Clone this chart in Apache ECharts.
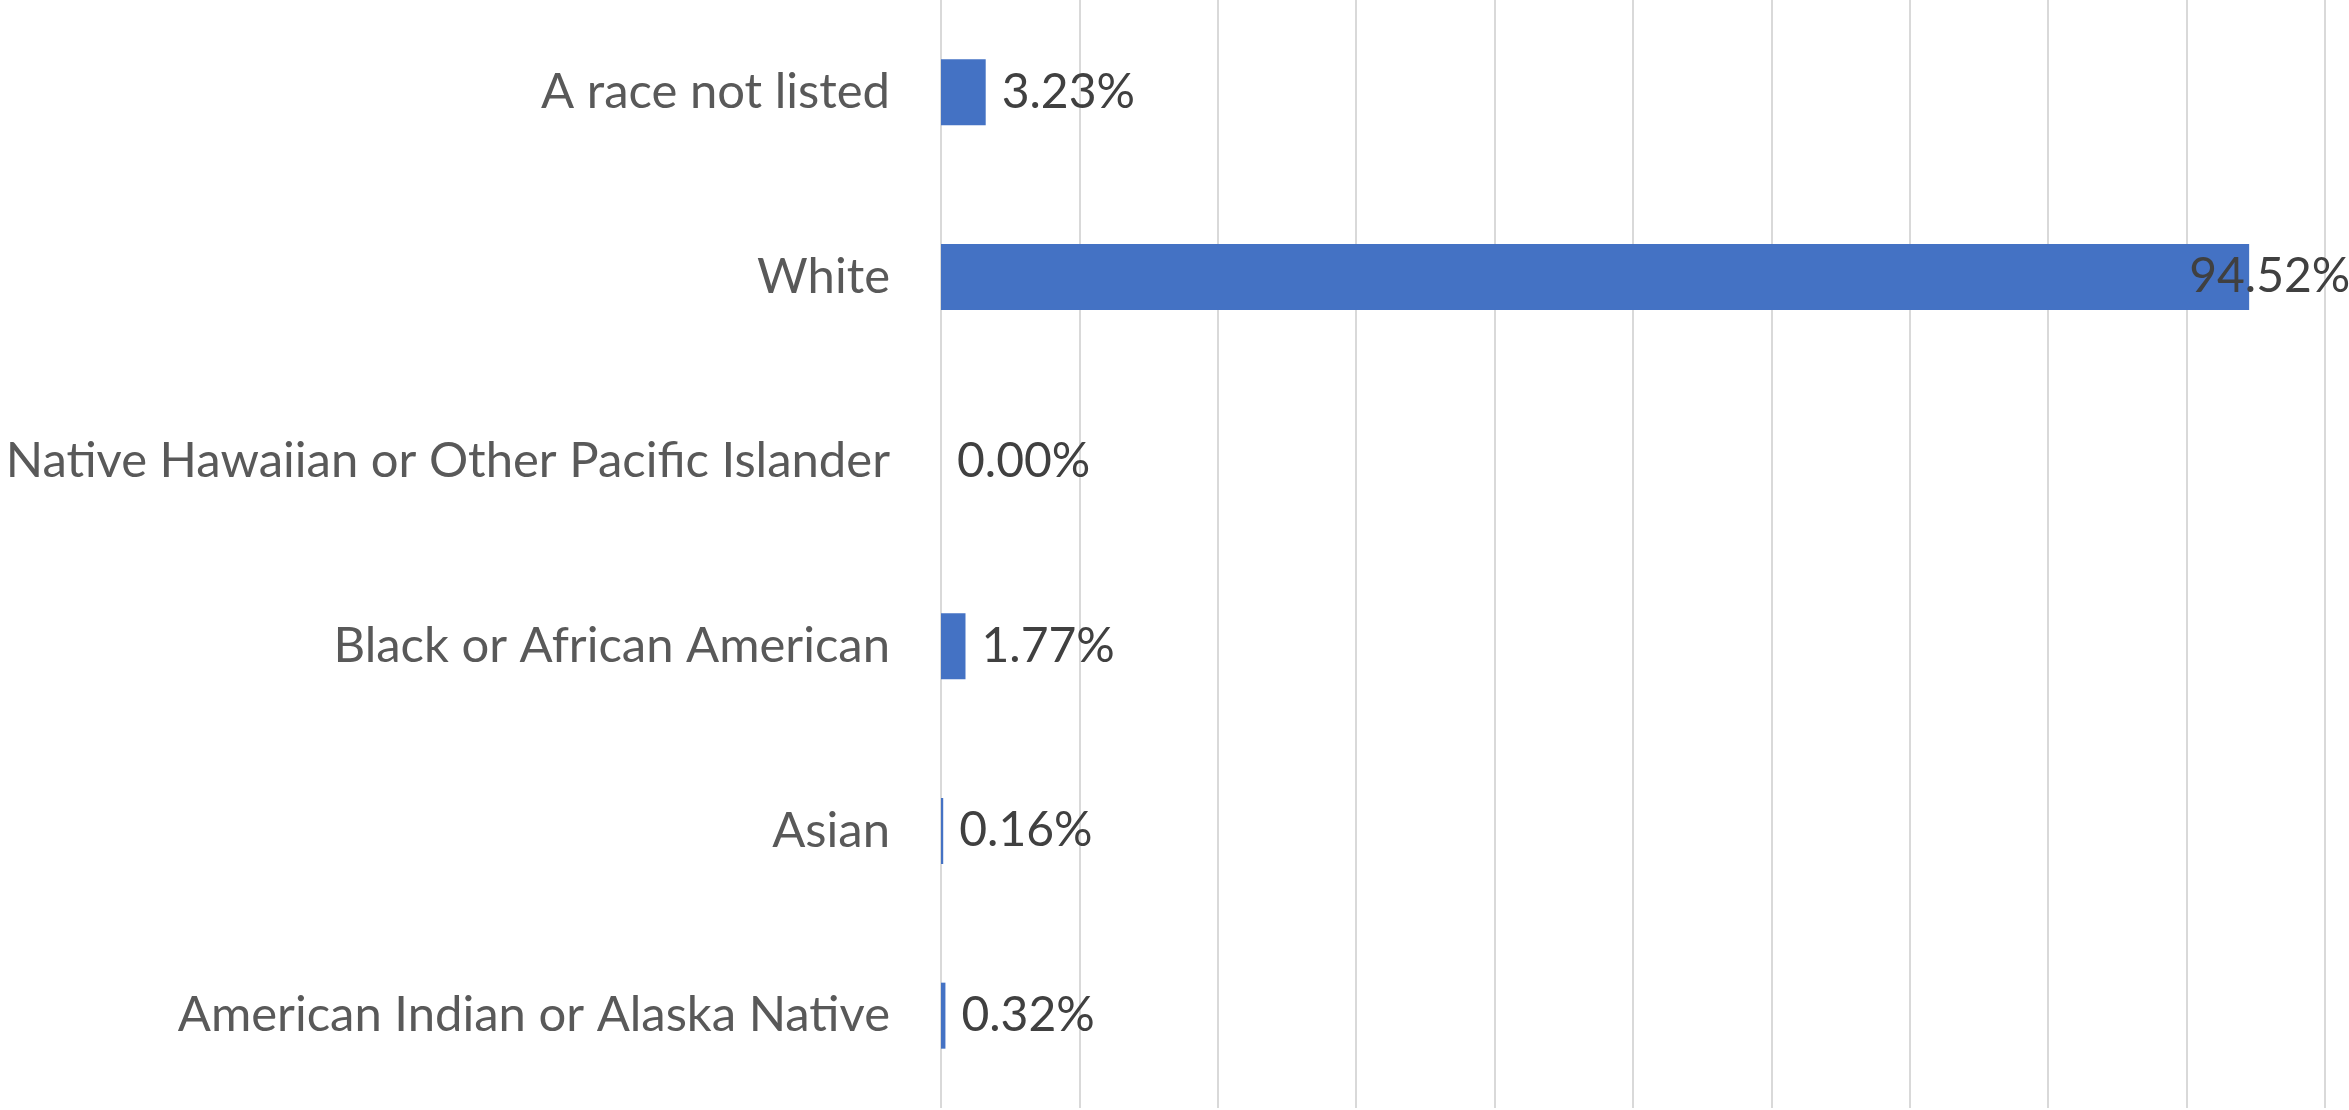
<!DOCTYPE html>
<html>
<head>
<meta charset="utf-8">
<style>
html,body{margin:0;padding:0;background:#fff;}
#chart{width:2349px;height:1110px;}
</style>
<script src="https://cdn.jsdelivr.net/npm/echarts@6/dist/echarts.min.js"></script>
</head>
<body>
<div id="chart"></div>
<script>
// Categories listed top to bottom as in the reference
const categories = [
  "A race not listed",
  "White",
  "Native Hawaiian or Other Pacific Islander",
  "Black or African American",
  "Asian",
  "American Indian or Alaska Native"
];
const values = [3.23, 94.52, 0.00, 1.77, 0.16, 0.32];
const xTicks = [0, 10, 20, 30, 40, 50, 60, 70, 80, 90, 100];

const FONT = "Lato, 'Open Sans', sans-serif";
const chart = echarts.init(document.getElementById('chart'), null, {renderer: 'canvas'});

const seriesData = values.map((v, i) => {
  const item = {value: v};
  if (categories[i] === "White") {
    item.label = {offset: [-76, 0]};
  }
  return item;
});

chart.setOption({
  animation: false,
  backgroundColor: '#ffffff',
  grid: {left: 941, right: 24, top: 0, bottom: 2, containLabel: false},
  xAxis: {
    type: 'value',
    min: xTicks[0],
    max: xTicks[xTicks.length - 1],
    interval: xTicks[1] - xTicks[0],
    axisLabel: {show: false},
    axisTick: {show: false},
    axisLine: {show: false},
    splitLine: {show: true, lineStyle: {color: '#d9d9d9', width: 2}}
  },
  yAxis: {
    type: 'category',
    data: categories,
    inverse: true,
    axisLine: {show: false},
    axisTick: {show: false},
    axisLabel: {
      margin: 51,
      color: '#595959',
      fontFamily: FONT,
      fontSize: 49
    }
  },
  series: [{
    type: 'bar',
    data: seriesData,
    barWidth: 66,
    itemStyle: {color: '#4472c4'},
    label: {
      show: true,
      position: 'right',
      distance: 16,
      color: '#404040',
      fontFamily: FONT,
      fontSize: 48,
      formatter: p => p.value.toFixed(2) + '%'
    }
  }]
});
</script>
</body>
</html>
